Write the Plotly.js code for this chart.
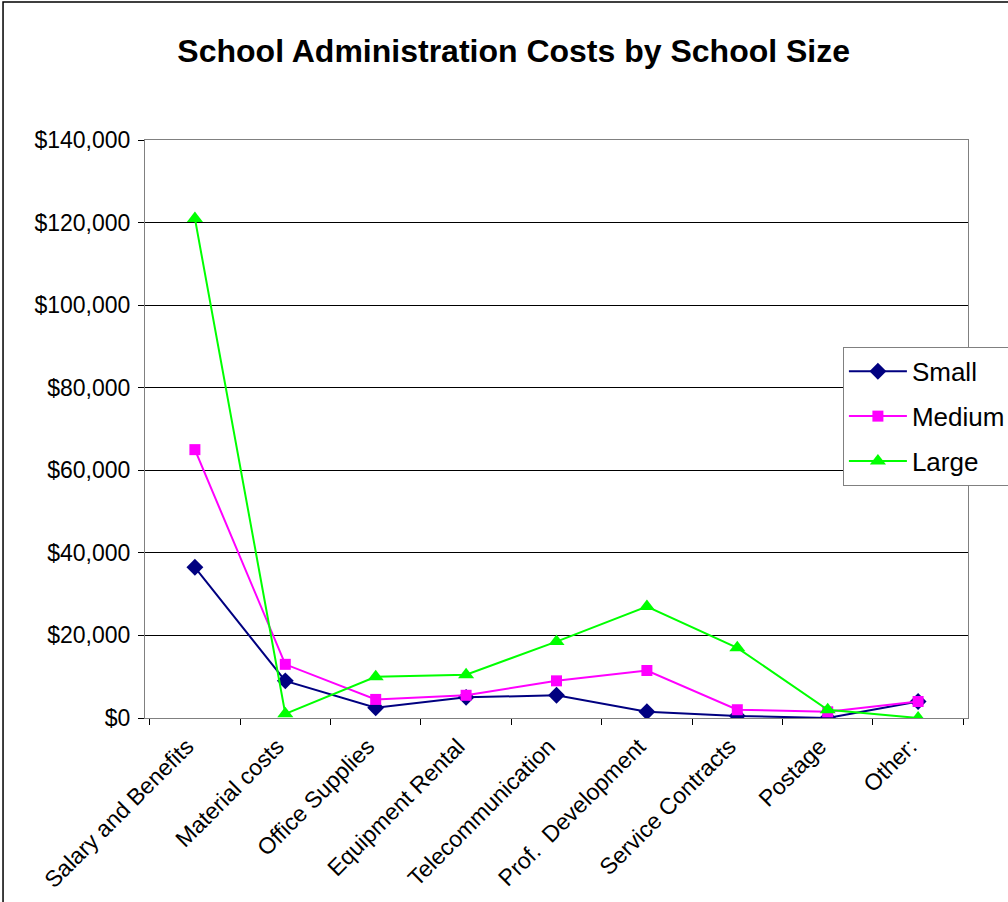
<!DOCTYPE html>
<html>
<head>
<meta charset="utf-8">
<script src="https://cdn.plot.ly/plotly-3.0.1.min.js"></script>
<style>html,body{margin:0;padding:0;background:#fff;}#chart{width:1008px;height:902px;}</style>
</head>
<body>
<div id="chart"></div>
<script>
const categories = ["Salary and Benefits", "Material costs", "Office Supplies", "Equipment Rental", "Telecommunication", "Prof.  Development", "Service Contracts", "Postage", "Other:"];
const small  = [36500, 9000, 2500, 5000, 5500, 1500, 500, 0, 4000];
const medium = [65000, 13000, 4500, 5500, 9000, 11500, 2000, 1500, 4000];
const large  = [121000, 1000, 10000, 10500, 18500, 27000, 17000, 2000, 0];
const seriesNames = ["Small", "Medium", "Large"];

const font = "Liberation Sans, Arial, sans-serif";
const traces = [
  {x: categories, y: small, name: seriesNames[0], type: "scatter", mode: "lines+markers", legendgroup: "a",
   line: {color: "#000080", width: 2}, marker: {symbol: "diamond", size: 13, color: "#000080"}},
  {x: categories, y: medium, name: seriesNames[1], type: "scatter", mode: "lines+markers", legendgroup: "b",
   line: {color: "#FF00FF", width: 2}, marker: {symbol: "square", size: 11, color: "#FF00FF"}},
  {x: categories, y: large, name: seriesNames[2], type: "scatter", mode: "lines+markers", legendgroup: "c",
   line: {color: "#00FF00", width: 2}, marker: {symbol: "triangle-up", size: 14, color: "#00FF00"}}
];

const layout = {
  width: 1008, height: 902,
  margin: {l: 145, r: 40, t: 140, b: 184, autoexpand: false},
  paper_bgcolor: "#fff", plot_bgcolor: "#fff",
  font: {family: font, color: "#000"},
  title: {text: "<b>School Administration Costs by School Size</b>", font: {family: font, size: 32, color: "#000"},
          x: 0.448, xref: "paper", xanchor: "center", y: 0.944, yref: "container", yanchor: "middle"},
  showlegend: true,
  legend: {x: 0.848, xanchor: "left", y: 0.642, yanchor: "top", bgcolor: "#fff", bordercolor: "#808080", borderwidth: 1,
           font: {family: font, size: 26, color: "#000"}, itemwidth: 58, tracegroupgap: 8, traceorder: "grouped"},
  xaxis: {type: "category", showgrid: false, showline: true, linecolor: "#808080", linewidth: 1, mirror: true,
          ticks: "outside", tickson: "boundaries", ticklen: 6, tickcolor: "#000", tickangle: -45,
          ticklabelshift: -8, ticklabelstandoff: 5,
          tickfont: {family: font, size: 23, color: "#000"}, zeroline: false, fixedrange: true},
  yaxis: {range: [0, 140000], dtick: 20000, tickprefix: "$", tickformat: ",d", showgrid: true, gridcolor: "#000", gridwidth: 1,
          showline: true, linecolor: "#808080", linewidth: 1, mirror: true, ticks: "outside", ticklen: 6, tickcolor: "#000",
          ticklabelstandoff: 3,
          tickfont: {family: font, size: 23, color: "#000"}, zeroline: false, fixedrange: true},
  shapes: [
    {type: "rect", xref: "paper", yref: "paper", x0: -0.1725, x1: 1.2, y0: -0.4, y1: 1.2388,
     line: {color: "#000", width: 1.5}, fillcolor: "rgba(0,0,0,0)", layer: "below"}
  ]
};

Plotly.newPlot("chart", traces, layout, {displayModeBar: false, staticPlot: true});
</script>
</body>
</html>
